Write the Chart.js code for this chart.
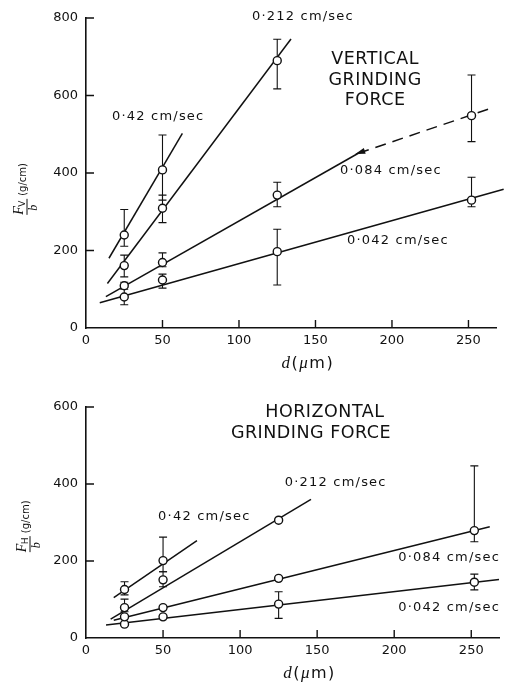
<!DOCTYPE html>
<html>
<head>
<meta charset="utf-8">
<script src="https://cdn.jsdelivr.net/npm/chart.js@4.4.0/dist/chart.umd.min.js"></script>
<style>
    html, body { margin: 0; padding: 0; background: #fff; }
    #vertChart { position: absolute; left: 0; top: 0; }
    #horizChart { position: absolute; left: 0; top: 380px; }
</style>
</head>
<body>
<canvas id="vertChart" width="506" height="380"></canvas>
<canvas id="horizChart" width="506" height="306"></canvas>
<script>
/// Grain sizes d (um) the forces were measured at
const grainSizes = [25, 50, 125, 252];

/// Vertical grinding force Fv/b (g/cm), null = no reading
const vForce42  = [240, 408, null, null];
const vForce212 = [161, 309, 690, null];
const vForce084 = [109, 169, 343, 548];
const vForce042 = [80, 124, 197, 330];

// error bar ends
const vLow42   = [211, 330, null, null];
const vHigh42  = [306, 498, null, null];
const vLow212  = [132, 272, 617, null];
const vHigh212 = [188, 343, 745, null];
const vLow084  = [100, 158, 313, 481];
const vHigh084 = [118, 194, 376, 653];
const vLow042  = [60, 103, 111, 313];
const vHigh042 = [105, 139, 255, 389];

// fitted lines, [d, F] at both ends
const vFit42  = [[15, 180], [63, 502]];
const vFit212 = [[14, 115], [134, 746]];
const vFit084 = [[13, 81], [178, 451]];
const vFit084Extra = [[178, 451], [267, 570]];
const vFit042 = [[9, 65], [273, 358]];

/// Horizontal grinding force Fh/b (g/cm)
const hForce42  = [126, 201, null, null];
const hForce212 = [79, 151, 306, null];
const hForce084 = [55, 79, 155, 279];
const hForce042 = [36, 55, 88, 145];

const hLow42   = [112, 172, null, null];
const hHigh42  = [146, 262, null, null];
const hLow212  = [68, 133, null, null];
const hHigh212 = [101, 172, null, null];
const hLow084  = [null, null, null, 250];
const hHigh084 = [null, null, null, 447];
const hLow042  = [null, null, 51, 125];
const hHigh042 = [null, null, 120, 166];

const hFit42  = [[18, 105], [72, 253]];
const hFit212 = [[16, 49], [146, 360]];
const hFit084 = [[18, 46], [262, 289]];
const hFit042 = [[13, 34], [268, 152]];

const xTicksMax = 268;

Chart.defaults.font.family = '"DejaVu Sans", sans-serif';
Chart.defaults.font.size = 13;
Chart.defaults.color = '#111';
Chart.defaults.animation = false;

const INK = '#111';

function pointSet(values, lows, highs) {
    const pts = [];
    grainSizes.forEach((d, i) => {
        if (values[i] == null) return;
        pts.push({ x: d, y: values[i], lo: lows[i], hi: highs[i] });
    });
    return {
        data: pts,
        order: 0,
        showLine: false,
        pointRadius: 4,
        pointBackgroundColor: '#fff',
        pointBorderColor: INK,
        pointBorderWidth: 1.4
    };
}

function fitSet(ends, dashed) {
    return {
        data: ends.map(([x, y]) => ({ x, y })),
        order: 1,
        showLine: true,
        borderColor: INK,
        borderWidth: 1.5,
        borderDash: dashed ? [11, 7] : [],
        pointRadius: 0,
        clip: false
    };
}

/// Error bars, inward ticks, labels and axis titles
const decor = {
    id: 'decor',
    beforeDatasetsDraw(chart) {
        const { ctx, scales: { x, y } } = chart;
        ctx.save();
        ctx.strokeStyle = INK;
        ctx.lineWidth = 1.1;
        chart.data.datasets.forEach(ds => {
            ds.data.forEach(p => {
                if (p.lo == null || p.hi == null) return;
                const px = x.getPixelForValue(p.x);
                const top = y.getPixelForValue(p.hi);
                const bot = y.getPixelForValue(p.lo);
                ctx.beginPath();
                ctx.moveTo(px, top); ctx.lineTo(px, bot);
                ctx.moveTo(px - 4, top); ctx.lineTo(px + 4, top);
                ctx.moveTo(px - 4, bot); ctx.lineTo(px + 4, bot);
                ctx.stroke();
            });
        });
        ctx.restore();
    },
    afterDraw(chart, args, opts) {
        const { ctx, chartArea, scales: { x, y } } = chart;
        ctx.save();
        ctx.strokeStyle = INK;
        ctx.fillStyle = INK;

        // inward tick marks
        ctx.lineWidth = 1.4;
        ctx.beginPath();
        x.ticks.forEach(t => {
            if (t.value === 0) return;
            const px = x.getPixelForValue(t.value);
            ctx.moveTo(px, chartArea.bottom);
            ctx.lineTo(px, chartArea.bottom - 8);
        });
        y.ticks.forEach(t => {
            if (t.value === 0) return;
            const py = y.getPixelForValue(t.value);
            ctx.moveTo(chartArea.left, py);
            ctx.lineTo(chartArea.left + 8, py);
        });
        ctx.stroke();

        // speed labels
        ctx.textBaseline = 'middle';
        ctx.textAlign = 'left';
        ctx.font = '13px "DejaVu Sans"';
        ctx.letterSpacing = '1.2px';
        opts.notes.forEach(n => {
            ctx.fillText(n.text, x.getPixelForValue(n.x), y.getPixelForValue(n.y));
        });

        // big titles
        ctx.textAlign = 'center';
        ctx.font = '17.5px "DejaVu Sans"';
        ctx.letterSpacing = '0.5px';
        opts.titles.forEach(n => {
            ctx.fillText(n.text, x.getPixelForValue(n.x), y.getPixelForValue(n.y));
        });
        ctx.letterSpacing = '0px';

        // arrow head where the extrapolation starts
        if (opts.arrow) {
            const a = opts.arrow;
            const tx = x.getPixelForValue(a.x), ty = y.getPixelForValue(a.y);
            const fx = x.getPixelForValue(a.fromX), fy = y.getPixelForValue(a.fromY);
            const ang = Math.atan2(ty - fy, tx - fx);
            ctx.beginPath();
            ctx.moveTo(tx, ty);
            ctx.lineTo(tx - 10 * Math.cos(ang) + 3 * Math.sin(ang), ty - 10 * Math.sin(ang) - 3 * Math.cos(ang));
            ctx.lineTo(tx - 10 * Math.cos(ang) - 3 * Math.sin(ang), ty - 10 * Math.sin(ang) + 3 * Math.cos(ang));
            ctx.closePath();
            ctx.fill();
        }

        // x title: d (um)
        const parts = [
            { t: 'd', f: 'italic 17px "Liberation Serif"' },
            { t: '(', f: '16px "DejaVu Sans"' },
            { t: '\u03bc', f: 'italic 17px "Liberation Serif"' },
            { t: 'm)', f: '16px "DejaVu Sans"' }
        ];
        ctx.letterSpacing = '1.5px';
        let total = 0;
        parts.forEach(p => { ctx.font = p.f; p.w = ctx.measureText(p.t).width; total += p.w; });
        let cx = x.getPixelForValue(opts.xTitleAt) - total / 2;
        const cy = chartArea.bottom + 36;
        ctx.textAlign = 'left';
        parts.forEach(p => { ctx.font = p.f; ctx.fillText(p.t, cx, cy); cx += p.w; });
        ctx.letterSpacing = '0px';

        // y title: F_sub / b (g/cm), rotated
        ctx.translate(opts.yTitleX, y.getPixelForValue(opts.yTitleAt));
        ctx.rotate(-Math.PI / 2);
        ctx.textBaseline = 'alphabetic';
        ctx.textAlign = 'left';
        ctx.font = 'italic 14px "Liberation Serif"';
        ctx.fillText('F', 0, -4);
        ctx.font = '9px "DejaVu Sans"';
        ctx.fillText(opts.sub, 8, -2);
        ctx.lineWidth = 1;
        ctx.beginPath(); ctx.moveTo(0, 0); ctx.lineTo(16, 0); ctx.stroke();
        ctx.textAlign = 'center';
        ctx.font = 'italic 12px "Liberation Serif"';
        ctx.fillText('b', 7, 10);
        ctx.textAlign = 'left';
        ctx.font = '10px "DejaVu Sans"';
        ctx.fillText('(g/cm)', 19, -1);

        ctx.restore();
    }
};

function makeChart(id, datasets, yMax, padTop, padRight, xHeight, decorOpts) {
    return new Chart(id, {
        type: 'scatter',
        data: { datasets },
        plugins: [decor],
        options: {
            responsive: false,
            animation: false,
            layout: { padding: { top: padTop, right: padRight, left: 0, bottom: 0 } },
            plugins: {
                legend: { display: false },
                tooltip: { enabled: false },
                decor: decorOpts
            },
            scales: {
                x: {
                    type: 'linear',
                    min: 0,
                    max: xTicksMax,
                    afterFit(s) { s.height = xHeight; },
                    border: { color: INK, width: 1.6 },
                    grid: { display: false, drawTicks: false },
                    ticks: { stepSize: 50, includeBounds: false, padding: 5, color: INK }
                },
                y: {
                    type: 'linear',
                    min: 0,
                    max: yMax,
                    afterFit(s) { s.width = 86; },
                    border: { color: INK, width: 1.6 },
                    grid: { display: false, drawTicks: false },
                    ticks: { stepSize: 200, padding: 8, color: INK }
                }
            }
        }
    });
}

/// Vertical force chart
const vertChart = makeChart('vertChart', [
    pointSet(vForce42, vLow42, vHigh42),
    pointSet(vForce212, vLow212, vHigh212),
    pointSet(vForce084, vLow084, vHigh084),
    pointSet(vForce042, vLow042, vHigh042),
    fitSet(vFit42),
    fitSet(vFit212),
    fitSet(vFit084),
    fitSet(vFit084Extra, true),
    fitSet(vFit042)
], 800, 18, 10, 52, {
    notes: [
        { text: '0\u00b7212 cm/sec', x: 108.5, y: 803 },
        { text: '0\u00b742 cm/sec', x: 17, y: 545 },
        { text: '0\u00b7084 cm/sec', x: 166, y: 405 },
        { text: '0\u00b7042 cm/sec', x: 170.6, y: 225 }
    ],
    titles: [
        { text: 'VERTICAL', x: 189, y: 692 },
        { text: 'GRINDING', x: 189, y: 640 },
        { text: 'FORCE', x: 189, y: 588 }
    ],
    arrow: { x: 176, y: 449, fromX: 190, fromY: 467 },
    xTitleAt: 145,
    yTitleX: 27,
    yTitleAt: 292,
    sub: 'V'
});

/// Horizontal force chart
const horizChart = makeChart('horizChart', [
    pointSet(hForce42, hLow42, hHigh42),
    pointSet(hForce212, hLow212, hHigh212),
    pointSet(hForce084, hLow084, hHigh084),
    pointSet(hForce042, hLow042, hHigh042),
    fitSet(hFit42),
    fitSet(hFit212),
    fitSet(hFit084),
    fitSet(hFit042)
], 600, 27, 7, 48, {
    notes: [
        { text: '0\u00b7212 cm/sec', x: 129, y: 403 },
        { text: '0\u00b742 cm/sec', x: 46.8, y: 314 },
        { text: '0\u00b7084 cm/sec', x: 202.6, y: 210 },
        { text: '0\u00b7042 cm/sec', x: 202.6, y: 80 }
    ],
    titles: [
        { text: 'HORIZONTAL', x: 155, y: 587 },
        { text: 'GRINDING FORCE', x: 146, y: 532 }
    ],
    xTitleAt: 145,
    yTitleX: 30,
    yTitleAt: 223,
    sub: 'H'
});
</script>
</body>
</html>
